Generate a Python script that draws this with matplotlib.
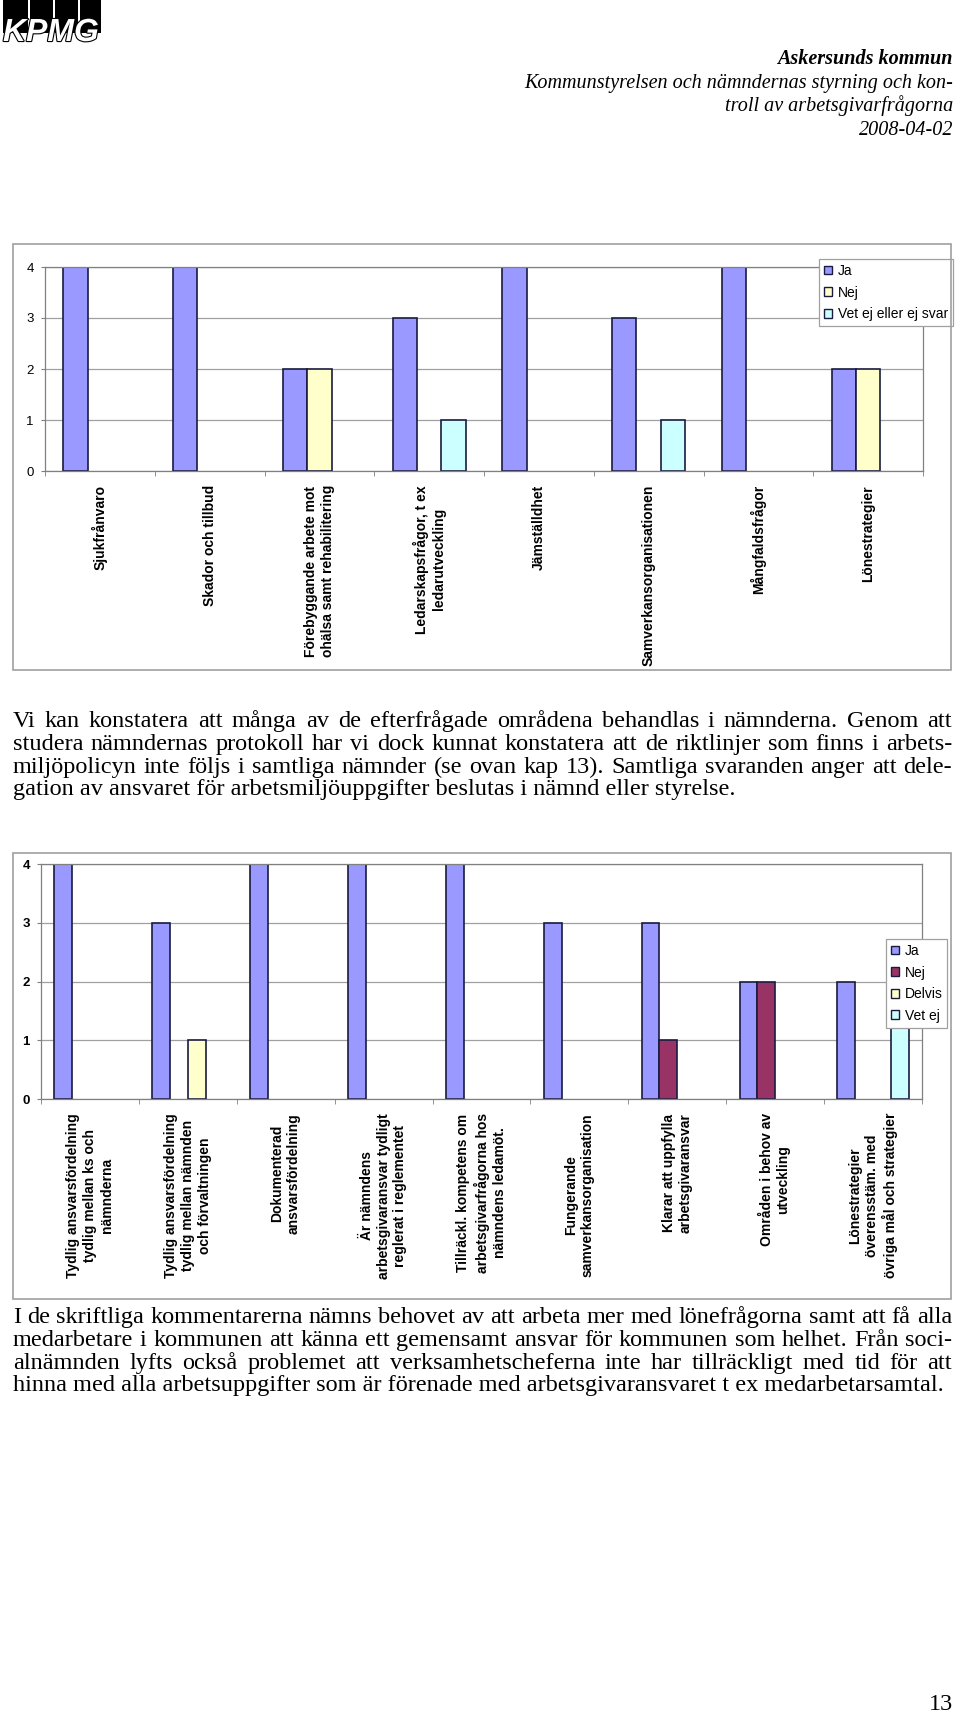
import numpy as np
import matplotlib.pyplot as plt
import matplotlib.patheffects as pe
from matplotlib.patches import Rectangle

# chart 1: areas handled by the committees
cats1 = ["Sjukfrånvaro", "Skador och tillbud",
         "Förebyggande arbete mot\nohälsa samt rehabilitering",
         "Ledarskapsfrågor, t ex\nledarutveckling", "Jämställdhet",
         "Samverkansorganisationen", "Mångfaldsfrågor", "Lönestrategier"]
names1 = ["Ja", "Nej", "Vet ej eller ej svar"]
ja1 = [4, 4, 2, 3, 4, 3, 4, 2]
nej1 = [0, 0, 2, 0, 0, 0, 0, 2]
vetej1 = [0, 0, 0, 1, 0, 1, 0, 0]

# chart 2: employer responsibility
cats2 = ["Tydlig ansvarsfördelning\ntydlig mellan ks och\nnämnderna",
         "Tydlig ansvarsfördelning\ntydlig mellan nämnden\noch förvaltningen",
         "Dokumenterad\nansvarsfördelning",
         "Är nämndens\narbetsgivaransvar tydligt\nreglerat i reglementet",
         "Tillräckl. kompetens om\narbetsgivarfrågorna hos\nnämndens ledamöt.",
         "Fungerande\nsamverkansorganisation",
         "Klarar att uppfylla\narbetsgivaransvar",
         "Områden i behov av\nutveckling",
         "Lönestrategier\növerensstäm. med\növriga mål och strategier"]
names2 = ["Ja", "Nej", "Delvis", "Vet ej"]
ja2 = [4, 3, 4, 4, 4, 3, 3, 2, 2]
nej2 = [0, 0, 0, 0, 0, 0, 1, 2, 0]
delvis2 = [0, 1, 0, 0, 0, 0, 0, 0, 0]
vetej2 = [0, 0, 0, 0, 0, 0, 0, 0, 2]

header = ["Askersunds kommun",
          "Kommunstyrelsen och nämndernas styrning och kon-",
          "troll av arbetsgivarfrågorna",
          "2008-04-02"]
para1 = ["Vi kan konstatera att många av de efterfrågade områdena behandlas i nämnderna. Genom att",
         "studera nämndernas protokoll har vi dock kunnat konstatera att de riktlinjer som finns i arbets-",
         "miljöpolicyn inte följs i samtliga nämnder (se ovan kap 13). Samtliga svaranden anger att dele-",
         "gation av ansvaret för arbetsmiljöuppgifter beslutas i nämnd eller styrelse."]
para2 = ["I de skriftliga kommentarerna nämns behovet av att arbeta mer med lönefrågorna samt att få alla",
         "medarbetare i kommunen att känna ett gemensamt ansvar för kommunen som helhet. Från soci-",
         "alnämnden lyfts också problemet att verksamhetscheferna inte har tillräckligt med tid för att",
         "hinna med alla arbetsuppgifter som är förenade med arbetsgivaransvaret t ex medarbetarsamtal."]

W, H = 960, 1719
fig = plt.figure(figsize=(W / 100, H / 100), dpi=100)
serif = "Liberation Serif"
sans = "Liberation Sans"
gray = "#a0a0a0"
edge = "#1a1a40"


def fx(x):
    return x / W


def fy(y):
    return 1 - y / H


def box(x0, y0, x1, y1, **kw):
    fig.add_artist(Rectangle((fx(x0), fy(y1)), fx(x1) - fx(x0), fy(y0) - fy(y1),
                             transform=fig.transFigure, **kw))


def bar_chart(rect, cats, series, names, colors, leg_xy, bold):
    l, t, r, b = rect
    ax = fig.add_axes([fx(l), fy(b), fx(r) - fx(l), fy(t) - fy(b)])
    n, k = len(cats), len(series)
    x = np.arange(n)
    w = 1 / (k + 1.5)
    for i, vals in enumerate(series):
        vals = np.array(vals)
        m = vals > 0
        ax.bar(x[m] + (i - (k - 1) / 2) * w, vals[m], w, color=colors[i],
               edgecolor=edge, linewidth=1.2, zorder=2)
    ax.set_xlim(-0.5, n - 0.5)
    ax.set_ylim(0, 4)
    ax.set_yticks(range(5))
    ax.set_yticklabels([str(v) for v in range(5)], family=sans, size=9.5,
                       weight="bold" if bold else "normal")
    ax.set_xticks(x)
    ax.set_xticklabels(cats, rotation=90, family=sans, size=10, weight="bold",
                       linespacing=1.25)
    ax.set_xticks(np.arange(n + 1) - 0.5, minor=True)
    ax.tick_params(axis="x", which="major", length=0, pad=10)
    ax.tick_params(axis="x", which="minor", length=3.6, color="#808080")
    ax.tick_params(axis="y", length=3, color="#808080", pad=5)
    ax.yaxis.grid(True, color=gray, linewidth=0.9)
    ax.set_axisbelow(True)
    for s in ax.spines.values():
        s.set_color("#808080")
        s.set_linewidth(0.9)
    handles = [Rectangle((0, 0), 1, 1, facecolor=c, edgecolor=edge, linewidth=1)
               for c in colors]
    leg = ax.legend(handles, names, loc="upper left",
                    bbox_to_anchor=(fx(leg_xy[0]), fy(leg_xy[1])),
                    bbox_transform=fig.transFigure, fancybox=False,
                    edgecolor=gray, framealpha=1, borderpad=0.35,
                    handlelength=0.6, handleheight=0.6, handletextpad=0.4,
                    labelspacing=0.55, borderaxespad=0,
                    prop={"family": sans, "size": 10})
    leg.get_frame().set_linewidth(0.9)
    return ax


def justified(lines, y0, dy, size, left=13, right=952):
    rend = fig.canvas.get_renderer()
    for i, line in enumerate(lines):
        y = fy(y0 + i * dy)
        if i == len(lines) - 1:
            fig.text(fx(left), y, line, family=serif, size=size, va="baseline")
            continue
        words = line.split(" ")
        ts = [fig.text(0, y, wd, family=serif, size=size, va="baseline") for wd in words]
        widths = [t.get_window_extent(rend).width for t in ts]
        gap = (right - left - sum(widths)) / (len(words) - 1)
        xp = left
        for t, wd in zip(ts, widths):
            t.set_x(fx(xp))
            xp += wd + gap


# KPMG logo
for x0, x1 in [(3, 28), (30, 53), (55, 78), (80, 101)]:
    box(x0, 0, x1, 33, facecolor="black", edgecolor="none")
fig.text(fx(3), fy(41), "KPMG", family=sans, size=23, weight="bold",
         style="italic", color="white", va="baseline",
         path_effects=[pe.withStroke(linewidth=1.6, foreground="black")])

# header
for i, line in enumerate(header):
    fig.text(fx(953), fy(64 + i * 23.7), line, family=serif, size=14.5,
             style="italic", weight="bold" if i == 0 else "normal",
             ha="right", va="baseline")

# chart frames
box(13, 244, 951, 670, facecolor="none", edgecolor=gray, linewidth=1.2)
box(13, 853, 951, 1299, facecolor="none", edgecolor=gray, linewidth=1.2)

bar_chart((45, 267, 923, 471), cats1, [ja1, nej1, vetej1], names1,
          ["#9999ff", "#ffffcc", "#ccffff"], (819, 259), False)
bar_chart((41, 864, 922, 1099), cats2, [ja2, nej2, delvis2, vetej2], names2,
          ["#9999ff", "#993366", "#ffffcc", "#ccffff"], (886, 939), True)

justified(para1, 727, 22.8, 17.5)
justified(para2, 1323, 22.8, 17.5)

fig.text(fx(953), fy(1710), "13", family=serif, size=17.5, ha="right", va="baseline")

plt.savefig("out.png", dpi=100)
